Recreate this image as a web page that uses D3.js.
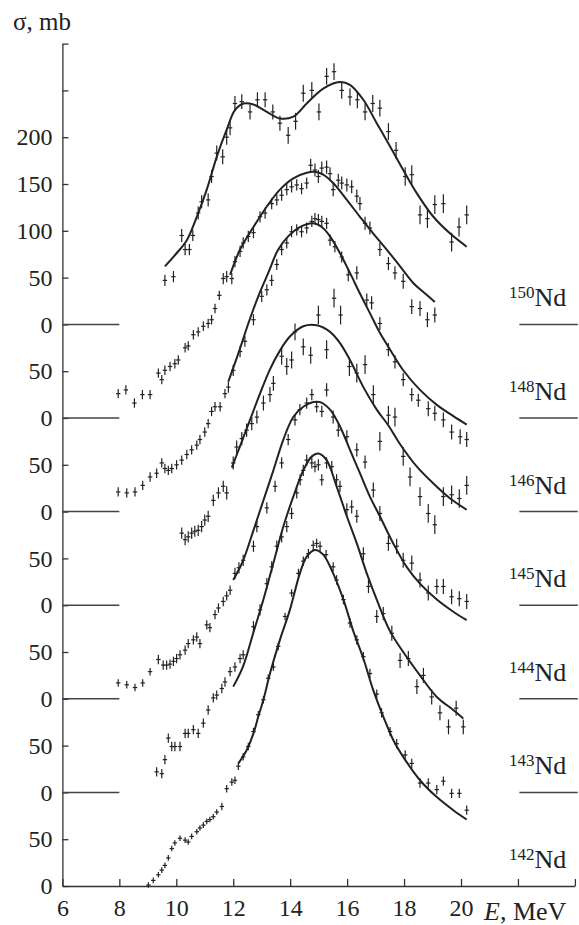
<!DOCTYPE html>
<html>
<head>
<meta charset="utf-8">
<script src="https://cdn.jsdelivr.net/npm/d3@7"></script>
<style>
  body { margin: 0; background: #fff; }
  svg text { font-family: "Liberation Serif", "DejaVu Serif", serif; fill: #222; }
  .axis path, .axis line { stroke: #333; stroke-width: 1.3; }
  .axis text { font-size: 24px; }
  .fit { fill: none; stroke: #222; stroke-width: 2; }
  .err { stroke: #222; stroke-width: 1.2; }
  .base { stroke: #444; stroke-width: 1.5; }
</style>
</head>
<body>
<script>
// data: [E (MeV), sigma (mb), error (mb)] per isotope, fit curves as [E, sigma]
const nd150Pts = [[9.6,47,6],[9.9,51,6],[10.19,95,7],[10.31,80,6],[10.46,80,6],[10.58,95,6],[10.77,119,7],[10.89,131,7],[11.12,133,7],[11.24,158,7],[11.42,183,8],[11.63,179,8],[11.77,200,8],[11.89,210,8],[12.06,236,8],[12.3,238,8],[12.59,227,8],[12.85,240,8],[13.12,240,8],[13.39,227,8],[13.64,215,8],[13.93,202,9],[14.19,217,9],[14.46,247,9],[14.76,250,9],[15.01,227,9],[15.28,265,9],[15.54,270,9],[15.81,250,9],[16.1,243,9],[16.36,240,9],[16.63,227,9],[16.9,236,9],[17.15,231,9],[17.45,206,9],[17.72,186,9],[18.04,158,10],[18.27,160,10],[18.56,117,10],[18.82,113,10],[19.08,128,10],[19.38,129,10],[19.67,88,10],[19.93,104,10],[20.2,117,10]];
const nd150Fit = [[9.6,62],[10.01,76],[10.37,90],[10.72,115],[11.07,144],[11.42,179],[11.77,208],[12.06,229],[12.36,236],[12.71,235],[13.18,227],[13.64,220],[14.11,222],[14.58,236],[15.16,252],[15.75,259],[16.1,256],[16.57,240],[17.04,215],[17.51,190],[17.97,165],[18.45,140],[19.03,115],[19.62,97],[20.2,83]];

const nd148Pts = [[7.96,26,5],[8.23,30,5],[8.53,16,5],[8.81,25,5],[9.08,25,5],[9.37,48,5],[9.49,41,5],[9.6,51,5],[9.78,55,5],[9.95,58,5],[10.07,62,5],[10.31,75,5],[10.42,77,5],[10.6,89,5],[10.77,92,5],[10.95,98,5],[11.12,101,5],[11.24,105,5],[11.36,117,5],[11.51,131,5],[11.65,149,6],[11.77,151,6],[11.95,149,6],[12.06,167,6],[12.24,178,6],[12.35,187,6],[12.53,194,6],[12.71,198,6],[12.94,215,6],[13.12,219,6],[13.35,229,6],[13.53,233,6],[13.7,238,6],[13.88,244,6],[14.05,247,6],[14.23,249,6],[14.4,245,6],[14.58,251,6],[14.72,270,7],[14.87,265,7],[14.99,258,7],[15.11,267,7],[15.28,268,7],[15.4,261,7],[15.51,244,7],[15.69,254,7],[15.81,251,7],[15.99,249,7],[16.16,247,7],[16.34,237,7],[16.45,229,7],[16.63,208,7],[16.8,203,7],[17.15,180,7],[17.45,165,7],[17.68,155,7],[17.97,146,8],[18.27,119,8],[18.56,117,8],[18.82,105,8],[19.08,110,8]];
const nd148Fit = [[11.89,153],[12.24,180],[12.71,204],[13.18,226],[13.64,244],[14.11,256],[14.58,262],[14.87,263],[15.16,260],[15.51,251],[15.99,233],[16.45,215],[16.92,197],[17.39,180],[17.86,162],[18.33,144],[18.74,133],[19.08,124]];

const nd146Pts = [[7.96,21,5],[8.26,20,5],[8.55,21,5],[8.82,28,5],[9.08,37,5],[9.31,41,5],[9.49,52,5],[9.6,46,5],[9.72,44,5],[9.84,46,5],[10.01,50,5],[10.19,55,5],[10.37,61,5],[10.54,66,5],[10.72,71,5],[10.83,77,5],[11.0,85,5],[11.12,94,5],[11.24,107,5],[11.36,112,5],[11.54,112,5],[11.71,126,5],[11.83,133,6],[12.0,151,6],[12.24,171,6],[12.41,182,6],[12.71,205,6],[13.0,230,6],[13.18,237,6],[13.35,247,6],[13.53,264,6],[13.7,280,6],[13.88,287,6],[14.05,299,6],[14.23,301,6],[14.4,299,6],[14.58,303,6],[14.76,310,6],[14.87,313,6],[14.99,312,6],[15.11,310,6],[15.28,308,6],[15.4,290,6],[15.57,283,6],[15.81,272,6],[16.04,253,7],[16.34,255,7],[16.69,226,7],[16.86,223,7],[17.15,201,7],[17.45,173,7],[17.68,160,7],[17.97,141,7],[18.27,125,7],[18.5,119,7],[18.85,110,8],[19.08,105,8],[19.38,98,8],[19.67,85,8],[19.97,80,8],[20.2,77,8]];
const nd146Fit = [[11.83,139],[12.18,169],[12.53,201],[12.88,230],[13.23,255],[13.58,280],[13.93,294],[14.34,304],[14.81,308],[15.11,304],[15.4,294],[15.75,276],[16.1,255],[16.45,233],[16.8,212],[17.15,191],[17.51,173],[17.97,151],[18.56,130],[19.15,114],[19.73,102],[20.2,93]];

const nd145Pts = [[10.19,77,6],[10.31,70,6],[10.42,73,6],[10.54,77,6],[10.65,79,6],[10.77,80,6],[10.89,84,6],[11.0,91,6],[11.12,95,6],[11.3,112,6],[11.48,120,6],[11.65,127,6],[11.77,120,7],[12.0,152,7],[12.12,169,7],[12.3,178,7],[12.47,187,7],[12.65,194,7],[12.83,201,7],[13.06,216,8],[13.29,225,8],[13.41,237,8],[13.7,266,9],[13.88,255,9],[14.05,262,9],[14.17,292,9],[14.46,276,9],[14.72,267,9],[14.99,310,10],[15.28,273,10],[15.54,328,10],[15.77,310,10],[16.08,255,10],[16.34,248,10],[16.63,257,10],[16.92,225,10],[17.15,175,10],[17.45,203,10],[17.68,201,10],[17.97,159,10],[18.21,137,10],[18.56,116,10],[18.85,98,10],[19.08,86,10],[19.38,116,10],[19.67,118,10],[19.94,114,10],[20.2,128,10]];
const nd145Fit = [[11.95,147],[12.24,170],[12.59,198],[12.94,226],[13.29,252],[13.64,272],[13.99,287],[14.46,298],[14.93,299],[15.4,292],[15.75,280],[16.1,262],[16.57,233],[17.04,209],[17.45,192],[17.86,172],[18.45,148],[19.03,130],[19.62,114],[20.2,102]];

const nd144Pts = [[7.96,17,4],[8.26,15,4],[8.55,12,4],[8.82,17,4],[9.08,29,4],[9.37,42,5],[9.54,36,5],[9.66,36,5],[9.78,37,5],[9.9,40,5],[10.01,43,5],[10.13,47,5],[10.31,52,5],[10.42,59,5],[10.6,63,5],[10.72,66,5],[10.83,59,5],[11.07,79,5],[11.18,76,5],[11.36,90,5],[11.48,97,5],[11.65,104,5],[11.77,110,5],[11.89,116,5],[12.06,134,6],[12.2,140,6],[12.35,148,6],[12.71,163,6],[12.83,184,6],[13.18,204,6],[13.47,227,6],[13.7,252,6],[13.93,277,6],[14.17,298,6],[14.34,309,6],[14.58,316,6],[14.76,325,6],[14.93,312,6],[15.11,307,6],[15.28,330,7],[15.51,301,7],[15.69,287,7],[15.99,280,7],[16.34,266,7],[16.63,253,7],[16.92,223,8],[17.15,198,8],[17.45,166,8],[17.74,163,8],[17.97,148,8],[18.27,145,8],[18.56,127,8],[18.85,113,8],[19.15,120,8],[19.38,120,8],[19.67,109,8],[19.94,107,8],[20.2,104,8]];
const nd144Fit = [[12.0,127],[12.35,148],[12.71,180],[13.06,212],[13.41,244],[13.76,277],[14.11,301],[14.46,312],[14.81,317],[15.05,317],[15.4,309],[15.75,291],[16.1,266],[16.45,241],[16.8,216],[17.15,195],[17.62,166],[18.09,141],[18.56,123],[19.15,106],[19.73,93],[20.2,84]];

const nd143Pts = [[9.31,22,5],[9.49,20,5],[9.6,35,5],[9.72,58,5],[9.84,49,5],[9.95,49,5],[10.13,49,5],[10.31,63,5],[10.42,63,5],[10.6,67,5],[10.77,63,5],[10.95,74,5],[11.12,88,5],[11.3,101,5],[11.42,104,5],[11.6,111,5],[11.71,118,5],[11.89,129,5],[12.06,134,5],[12.24,143,5],[12.35,147,5],[12.71,177,6],[12.94,195,6],[13.18,223,6],[13.35,241,6],[13.53,263,6],[13.7,273,6],[13.88,284,6],[14.05,298,6],[14.23,320,6],[14.35,334,6],[14.46,344,6],[14.58,355,6],[14.76,352,6],[14.87,348,6],[14.99,350,6],[15.11,334,6],[15.28,352,6],[15.46,348,6],[15.63,334,6],[15.75,327,6],[15.99,302,7],[16.16,305,7],[16.34,295,7],[16.57,255,7],[16.75,220,7],[17.04,188,7],[17.27,191,7],[17.57,170,8],[17.86,141,8],[18.15,143,8],[18.45,113,8],[18.68,125,8],[18.97,102,8],[19.26,85,8],[19.56,70,8],[19.83,90,8],[20.08,70,8]];
const nd143Fit = [[12.0,113],[12.35,135],[12.71,171],[13.06,206],[13.41,245],[13.76,284],[14.11,316],[14.46,344],[14.76,359],[14.99,362],[15.28,355],[15.63,327],[15.99,295],[16.34,266],[16.69,234],[17.04,206],[17.51,172],[17.97,150],[18.56,125],[19.15,102],[19.73,88],[20.08,79]];

const nd142Pts = [[9.02,1,3],[9.19,6,3],[9.37,12,3],[9.49,17,3],[9.6,22,3],[9.72,30,3],[9.84,40,3],[9.95,46,3],[10.13,51,3],[10.31,49,3],[10.42,47,3],[10.54,53,3],[10.72,58,3],[10.83,62,3],[10.95,65,3],[11.07,69,3],[11.18,71,3],[11.3,74,3],[11.42,79,3],[11.6,85,4],[11.77,104,4],[11.95,111,4],[12.06,113,4],[12.18,128,4],[12.35,138,4],[12.53,149,4],[12.71,165,4],[12.88,183,4],[13.06,199,4],[13.23,222,4],[13.41,234,4],[13.58,256,4],[13.82,288,4],[14.05,313,4],[14.29,334,5],[14.46,347,5],[14.64,355,5],[14.81,364,5],[14.93,366,5],[15.05,363,5],[15.26,354,5],[15.51,341,5],[15.63,327,5],[15.87,306,5],[16.1,281,5],[16.34,263,5],[16.57,245,5],[16.8,227,5],[17.04,205,5],[17.21,185,5],[17.51,165,5],[17.74,152,5],[18.04,140,5],[18.27,131,5],[18.56,110,5],[18.85,110,5],[19.15,103,5],[19.38,112,5],[19.67,99,5],[19.94,99,5],[20.2,81,5]];
const nd142Fit = [[12.18,131],[12.47,145],[12.71,163],[12.88,181],[13.06,199],[13.29,227],[13.64,263],[13.99,295],[14.34,334],[14.58,352],[14.87,359],[15.16,354],[15.51,334],[15.87,306],[16.22,272],[16.57,243],[16.92,209],[17.27,181],[17.62,156],[17.97,138],[18.56,113],[19.15,95],[19.73,81],[20.2,71]];

const isotopes = ['142', '143', '144', '145', '146', '148', '150'];
const offsets = [0, 100, 200, 300, 400, 500, 600]; // mb shift of each spectrum
const pointSets = [nd142Pts, nd143Pts, nd144Pts, nd145Pts, nd146Pts, nd148Pts, nd150Pts];
const fitSets = [nd142Fit, nd143Fit, nd144Fit, nd145Fit, nd146Fit, nd148Fit, nd150Fit];

const xTicks = [6, 8, 10, 12, 14, 16, 18, 20, 22, 24];
const xTickLabels = ['6', '8', '10', '12', '14', '16', '18', '20', '', ''];
const yTicks = [0, 50, 100, 150, 200, 250, 300, 350, 400, 450, 500, 550, 600, 650, 700, 750, 800, 850, 900];
const yTickLabels = ['0', '50', '0', '50', '0', '50', '0', '50', '0', '50', '0', '50', '0', '50', '100', '150', '200', '', ''];

// svg params
const svgW = 579;
const svgH = 925;

const x = d3.scaleLinear().domain([6, 24]).range([62.4, 574.9]);
const y = d3.scaleLinear().domain([0, 900]).range([886, 43.6]);

const svg = d3.select('body').append('svg').attr('width', svgW).attr('height', svgH);

/*
  axes
*/
svg.append('g')
  .attr('class', 'axis')
  .attr('transform', 'translate(0,' + y(0) + ')')
  .call(d3.axisBottom(x).tickValues(xTicks).tickSize(-7).tickSizeOuter(0).tickPadding(13)
    .tickFormat((d, i) => xTickLabels[i]));

svg.append('g')
  .attr('class', 'axis')
  .attr('transform', 'translate(' + x(6) + ',0)')
  .call(d3.axisLeft(y).tickValues(yTicks).tickSize(-6).tickSizeOuter(0).tickPadding(10)
    .tickFormat((d, i) => yTickLabels[i]));

svg.selectAll('.axis text').attr('fill', '#222');

svg.append('text').attr('x', 13).attr('y', 30).attr('font-size', 25).text('σ, mb');

const eLabel = svg.append('text').attr('x', 484).attr('y', 920).attr('font-size', 26);
eLabel.append('tspan').attr('font-style', 'italic').text('E');
eLabel.append('tspan').text(', MeV');

/*
  baselines of shifted spectra and isotope labels
*/
isotopes.forEach((iso, i) => {
  const by = y(offsets[i]);
  if (i > 0) {
    svg.append('line').attr('class', 'base')
      .attr('x1', x(6)).attr('x2', x(8)).attr('y1', by).attr('y2', by);
    svg.append('line').attr('class', 'base')
      .attr('x1', x(22.05)).attr('x2', x(24.1)).attr('y1', by).attr('y2', by);
  }
  const t = svg.append('text').attr('x', 509).attr('y', by - 18);
  t.append('tspan').attr('font-size', 17).attr('dy', -8).text(iso);
  t.append('tspan').attr('font-size', 26).attr('dy', 8).text('Nd');
});

/*
  fit curves
*/
const line = d3.line().curve(d3.curveCatmullRom.alpha(0.5));
fitSets.forEach((fit, i) => {
  svg.append('path')
    .attr('class', 'fit')
    .attr('d', line(fit.map((d) => [x(d[0]), y(d[1] + offsets[i])])));
});

/*
  data points with error bars
*/
pointSets.forEach((pts, i) => {
  const g = svg.append('g');
  pts.forEach((d) => {
    const px = x(d[0]);
    const py = y(d[1] + offsets[i]);
    const dy = y(0) - y(d[2]);
    g.append('line').attr('class', 'err')
      .attr('x1', px).attr('x2', px).attr('y1', py - dy).attr('y2', py + dy);
    g.append('line').attr('class', 'err')
      .attr('x1', px - 2.2).attr('x2', px + 2.2).attr('y1', py).attr('y2', py);
  });
});
</script>
</body>
</html>
